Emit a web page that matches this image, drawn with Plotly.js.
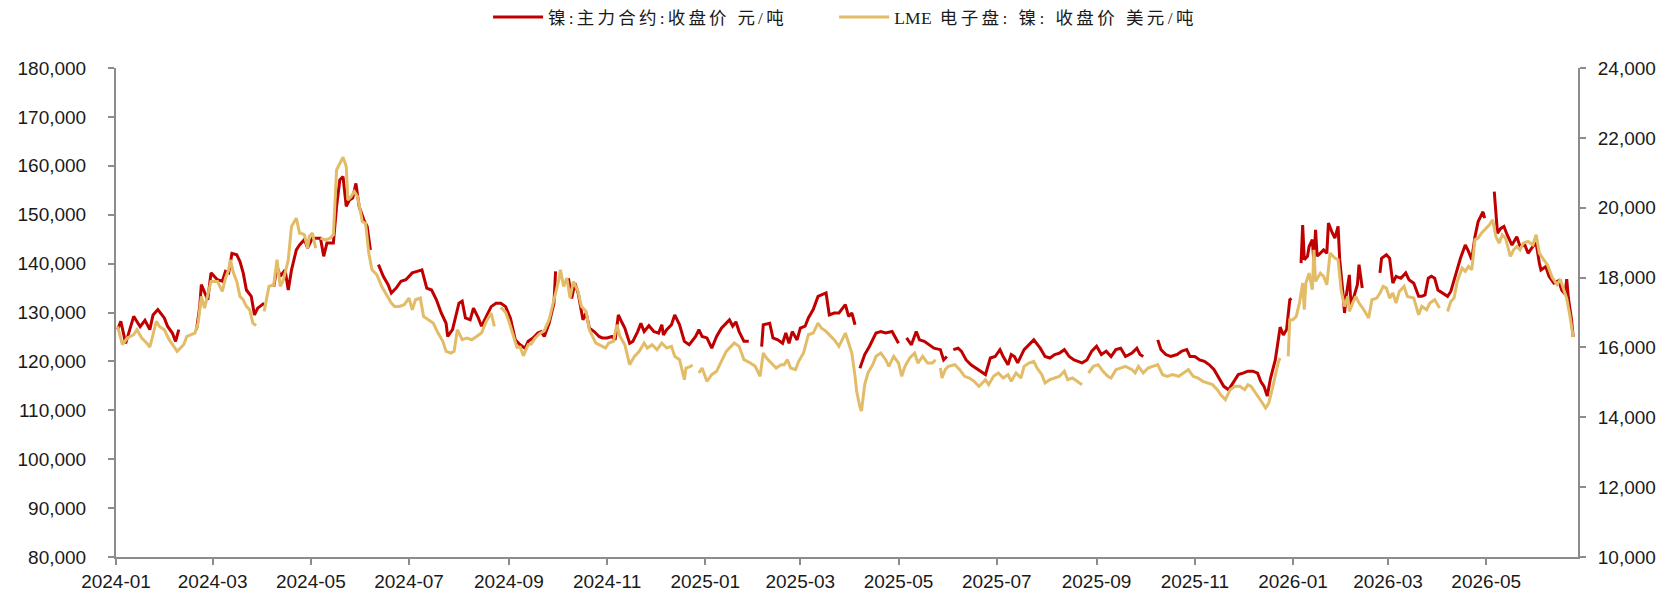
<!DOCTYPE html>
<html>
<head>
<meta charset="utf-8">
<script src="https://cdn.plot.ly/plotly-3.0.1.min.js"></script>
<style>
  html, body { margin: 0; padding: 0; background: #fff; }
  #chart { width: 1663px; height: 593px; }
  .legendtext { letter-spacing: 3.2px; }
</style>
</head>
<body>
<div id="chart"></div>
<script>
// 镍:主力合约:收盘价 (元/吨) — left axis
const shfeDates = [
"2024-01-02","2024-01-04","2024-01-07","2024-01-12","2024-01-16","2024-01-19","2024-01-22","2024-01-24","2024-01-27","2024-01-31",
"2024-02-02","2024-02-05","2024-02-07","2024-02-09","2024-02-14","2024-02-20","2024-02-22","2024-02-23","2024-02-25","2024-02-27","2024-02-29",
"2024-03-04","2024-03-07","2024-03-09","2024-03-11","2024-03-13","2024-03-16","2024-03-18","2024-03-20","2024-03-22","2024-03-25","2024-03-27","2024-03-29",
"2024-04-02","2024-04-05","2024-04-08","2024-04-10","2024-04-12","2024-04-15","2024-04-17","2024-04-19","2024-04-22","2024-04-24","2024-04-27","2024-04-29",
"2024-05-02","2024-05-07","2024-05-09","2024-05-11","2024-05-15","2024-05-17","2024-05-19","2024-05-21","2024-05-23","2024-05-25","2024-05-27","2024-05-29","2024-05-31",
"2024-06-03","2024-06-05","2024-06-07","2024-06-09","2024-06-12","2024-06-15","2024-06-18","2024-06-20","2024-06-23","2024-06-26","2024-06-29",
"2024-07-03","2024-07-06","2024-07-09","2024-07-12","2024-07-15","2024-07-18","2024-07-21","2024-07-24","2024-07-25","2024-07-28",
"2024-08-01","2024-08-03","2024-08-05","2024-08-08","2024-08-10","2024-08-13","2024-08-15","2024-08-18","2024-08-21","2024-08-24","2024-08-27","2024-08-30",
"2024-09-02","2024-09-05","2024-09-08","2024-09-11","2024-09-13","2024-09-16","2024-09-19","2024-09-21","2024-09-23","2024-09-26","2024-09-29","2024-09-30",
"2024-10-04","2024-10-08","2024-10-10","2024-10-12","2024-10-14","2024-10-17","2024-10-19","2024-10-21","2024-10-24","2024-10-27","2024-10-29",
"2024-11-01","2024-11-04","2024-11-06","2024-11-08","2024-11-10","2024-11-12","2024-11-15","2024-11-17","2024-11-20","2024-11-22","2024-11-24","2024-11-27","2024-11-30",
"2024-12-03","2024-12-05","2024-12-06","2024-12-08","2024-12-11","2024-12-13","2024-12-16","2024-12-19","2024-12-22","2024-12-26","2024-12-28","2024-12-30",
"2025-01-02","2025-01-05","2025-01-08","2025-01-11","2025-01-14","2025-01-16","2025-01-18","2025-01-20","2025-01-22","2025-01-25","2025-01-28","2025-01-31",
"2025-02-05","2025-02-06","2025-02-10","2025-02-12","2025-02-15","2025-02-18","2025-02-20","2025-02-22","2025-02-24","2025-02-27",
"2025-03-01","2025-03-04","2025-03-06","2025-03-09","2025-03-12","2025-03-14","2025-03-17","2025-03-19","2025-03-22","2025-03-25","2025-03-29","2025-03-31",
"2025-04-02","2025-04-04","2025-04-05","2025-04-07","2025-04-10","2025-04-13","2025-04-17","2025-04-20","2025-04-23","2025-04-27",
"2025-05-01","2025-05-03","2025-05-06","2025-05-09","2025-05-12","2025-05-14","2025-05-17","2025-05-20","2025-05-23","2025-05-27","2025-05-29","2025-05-31",
"2025-06-02","2025-06-04","2025-06-07","2025-06-09","2025-06-12","2025-06-15","2025-06-18","2025-06-21","2025-06-24","2025-06-27","2025-06-30",
"2025-07-03","2025-07-05","2025-07-08","2025-07-10","2025-07-12","2025-07-14","2025-07-18","2025-07-21","2025-07-24","2025-07-28","2025-07-31",
"2025-08-03","2025-08-06","2025-08-09","2025-08-12","2025-08-15","2025-08-18","2025-08-23","2025-08-26","2025-08-29",
"2025-09-01","2025-09-04","2025-09-07","2025-09-10","2025-09-13","2025-09-16","2025-09-19","2025-09-23","2025-09-26","2025-09-28","2025-09-30",
"2025-10-04","2025-10-09","2025-10-11","2025-10-14","2025-10-17","2025-10-21","2025-10-24","2025-10-27","2025-10-29",
"2025-11-01","2025-11-04","2025-11-07","2025-11-10","2025-11-13","2025-11-16","2025-11-19","2025-11-22","2025-11-25","2025-11-28",
"2025-12-01","2025-12-04","2025-12-07","2025-12-10","2025-12-12","2025-12-14","2025-12-16","2025-12-18","2025-12-21","2025-12-24","2025-12-26","2025-12-28","2025-12-30","2025-12-31",
"2026-01-02","2026-01-06","2026-01-07","2026-01-08","2026-01-10","2026-01-11","2026-01-13","2026-01-14","2026-01-15","2026-01-16","2026-01-20","2026-01-22","2026-01-23","2026-01-25","2026-01-27","2026-01-29","2026-01-30",
"2026-02-01","2026-02-02","2026-02-03","2026-02-05","2026-02-06","2026-02-08","2026-02-10","2026-02-11","2026-02-13","2026-02-17","2026-02-24","2026-02-25","2026-02-28",
"2026-03-02","2026-03-04","2026-03-06","2026-03-09","2026-03-12","2026-03-14","2026-03-17","2026-03-20","2026-03-22","2026-03-24","2026-03-26","2026-03-28","2026-03-30",
"2026-04-01","2026-04-04","2026-04-07","2026-04-09","2026-04-11","2026-04-13","2026-04-15","2026-04-18","2026-04-20","2026-04-22","2026-04-24","2026-04-26","2026-04-29","2026-04-30",
"2026-05-03","2026-05-06","2026-05-08","2026-05-10","2026-05-12","2026-05-14","2026-05-17","2026-05-20","2026-05-22","2026-05-25","2026-05-27","2026-05-30",
"2026-06-01","2026-06-03","2026-06-04","2026-06-07","2026-06-09","2026-06-12","2026-06-15","2026-06-17","2026-06-19","2026-06-20","2026-06-21","2026-06-23","2026-06-24"
];
const shfeClose = [
126500,128200,123700,129200,127100,128400,126500,129500,130600,128900,
127200,125800,124100,126500,null,126500,131200,135700,134000,132600,138100,
136700,136400,138400,138100,142100,141800,140400,138100,134600,133300,129500,130900,
131900,null,135300,139400,137400,138700,134600,138700,142800,143800,144900,143200,
145200,145200,141500,144200,144200,151700,157100,157800,151700,153000,153400,156400,151700,
148900,147600,142800,null,139800,137400,135700,134000,135000,136400,136700,
138100,138400,138700,135000,134600,132600,129900,127800,125100,126500,
131900,132300,128900,128500,130900,128900,127200,129200,131200,131900,131900,131200,
128800,124400,123400,122700,124100,124800,125800,126100,125100,127800,131900,138400,
null,137000,132900,136000,134000,128500,129900,126800,126100,125100,124800,
124800,125100,124400,129500,128100,126800,123700,124100,126100,127800,126100,127300,126100,
125800,127500,125400,126500,127500,129500,127500,124100,123400,125100,126500,125100,
124800,122700,125100,126800,127800,128500,127200,128100,126100,124100,124100,null,
123000,127500,127800,124800,124400,123700,125800,123700,126100,124400,
126800,127200,128900,130600,133300,133600,134000,129500,129900,129900,131600,129200,
129900,127500,null,118600,121400,123100,125800,126100,125800,126100,
123700,null,124800,123400,126100,124400,124100,123400,122700,122400,120300,121000,
null,122400,122700,122100,120300,119300,118600,117900,117300,120700,121000,
122400,121000,119300,121400,121000,119700,122400,123400,124400,122700,121000,
120700,121400,121700,122400,121000,120300,119700,120300,122100,
123100,121400,122100,121000,122400,122700,121000,121700,122700,121400,121000,
null,124400,122400,121400,121000,121400,122100,122400,121000,
121000,120300,120000,119300,118300,116600,114900,114200,115900,117300,
117600,118000,118000,117600,115900,114900,112900,116500,120300,127000,125400,126500,132600,132900,
null,140100,147900,140800,141500,143500,144900,140100,146900,141500,142800,142100,148300,146600,145200,147600,140800,
134000,129900,133300,137700,131200,133300,135700,139800,135000,null,138100,141100,141800,
141100,136000,137400,137000,138100,136700,136000,133300,133300,133600,137000,137400,137000,
134600,133900,133300,134300,136700,139100,141100,143800,142500,140800,145500,148600,150600,149300,
null,154700,146200,147200,147600,145900,143800,145500,143500,143800,142100,143500,
144200,140100,138700,139400,137400,136000,136500,134500,133800,136800,133000,128500,125000
];

// LME 电子盘: 镍: 收盘价 (美元/吨) — right axis
const lmeDates = [
"2024-01-02","2024-01-03","2024-01-05","2024-01-08","2024-01-12","2024-01-14","2024-01-17","2024-01-20","2024-01-22","2024-01-24","2024-01-26","2024-01-28","2024-01-31",
"2024-02-03","2024-02-06","2024-02-08","2024-02-10","2024-02-12","2024-02-14","2024-02-16","2024-02-19","2024-02-21","2024-02-23","2024-02-25","2024-02-27","2024-02-29",
"2024-03-04","2024-03-07","2024-03-09","2024-03-11","2024-03-12","2024-03-14","2024-03-16","2024-03-18","2024-03-20","2024-03-22","2024-03-24","2024-03-26","2024-03-28","2024-03-30",
"2024-04-02","2024-04-05","2024-04-08","2024-04-10","2024-04-12","2024-04-14","2024-04-17","2024-04-19","2024-04-22","2024-04-24","2024-04-25","2024-04-27","2024-04-29","2024-04-30",
"2024-05-02","2024-05-04","2024-05-06","2024-05-07","2024-05-10","2024-05-13","2024-05-15","2024-05-17","2024-05-19","2024-05-21","2024-05-23","2024-05-24","2024-05-26","2024-05-28","2024-05-30",
"2024-06-02","2024-06-04","2024-06-06","2024-06-08","2024-06-11","2024-06-14","2024-06-17","2024-06-20","2024-06-22","2024-06-25","2024-06-28",
"2024-07-01","2024-07-03","2024-07-05","2024-07-08","2024-07-10","2024-07-13","2024-07-16","2024-07-19","2024-07-22","2024-07-24","2024-07-27","2024-07-29","2024-07-31",
"2024-08-03","2024-08-06","2024-08-09","2024-08-12","2024-08-15","2024-08-18","2024-08-21","2024-08-23","2024-08-25","2024-08-27","2024-08-30",
"2024-09-01","2024-09-04","2024-09-06","2024-09-08","2024-09-10","2024-09-13","2024-09-15","2024-09-17","2024-09-20","2024-09-23","2024-09-26","2024-09-29",
"2024-10-02","2024-10-03","2024-10-05","2024-10-07","2024-10-09","2024-10-11","2024-10-14","2024-10-16","2024-10-19","2024-10-21","2024-10-23","2024-10-25","2024-10-27","2024-10-31",
"2024-11-02","2024-11-05","2024-11-07","2024-11-09","2024-11-12","2024-11-15","2024-11-18","2024-11-21","2024-11-24","2024-11-26","2024-11-29",
"2024-12-02","2024-12-05","2024-12-08","2024-12-11","2024-12-13","2024-12-16","2024-12-18","2024-12-19","2024-12-20","2024-12-23","2024-12-24","2024-12-26","2024-12-28","2024-12-30",
"2025-01-02","2025-01-05","2025-01-08","2025-01-11","2025-01-14","2025-01-17","2025-01-19","2025-01-22","2025-01-25","2025-01-29",
"2025-02-01","2025-02-04","2025-02-06","2025-02-08","2025-02-11","2025-02-14","2025-02-17","2025-02-19","2025-02-21","2025-02-23","2025-02-26","2025-02-28",
"2025-03-03","2025-03-06","2025-03-09","2025-03-12","2025-03-14","2025-03-17","2025-03-20","2025-03-22","2025-03-25","2025-03-29","2025-03-31",
"2025-04-02","2025-04-04","2025-04-05","2025-04-07","2025-04-08","2025-04-10","2025-04-12","2025-04-15","2025-04-17","2025-04-20","2025-04-23","2025-04-25","2025-04-28",
"2025-05-01","2025-05-03","2025-05-05","2025-05-08","2025-05-11","2025-05-13","2025-05-16","2025-05-19","2025-05-22","2025-05-24","2025-05-25","2025-05-27","2025-05-28","2025-05-30",
"2025-06-01","2025-06-05","2025-06-08","2025-06-11","2025-06-14","2025-06-17","2025-06-20","2025-06-24","2025-06-26","2025-06-29",
"2025-07-02","2025-07-05","2025-07-08","2025-07-10","2025-07-13","2025-07-16","2025-07-18","2025-07-21","2025-07-24","2025-07-26","2025-07-29","2025-07-31",
"2025-08-03","2025-08-06","2025-08-09","2025-08-12","2025-08-14","2025-08-17","2025-08-20","2025-08-23","2025-08-25","2025-08-27","2025-08-30",
"2025-09-02","2025-09-05","2025-09-08","2025-09-10","2025-09-13","2025-09-16","2025-09-19","2025-09-23","2025-09-25","2025-09-27","2025-09-30",
"2025-10-03","2025-10-06","2025-10-09","2025-10-12","2025-10-15","2025-10-18","2025-10-22","2025-10-25","2025-10-28","2025-10-31",
"2025-11-03","2025-11-06","2025-11-09","2025-11-12","2025-11-15","2025-11-17","2025-11-20","2025-11-23","2025-11-26","2025-11-29",
"2025-12-02","2025-12-04","2025-12-06","2025-12-09","2025-12-11","2025-12-13","2025-12-15","2025-12-17","2025-12-19","2025-12-21","2025-12-23","2025-12-24","2025-12-26","2025-12-29","2025-12-30",
"2026-01-01","2026-01-03","2026-01-05","2026-01-07","2026-01-08","2026-01-09","2026-01-11","2026-01-13","2026-01-14","2026-01-15","2026-01-18","2026-01-20","2026-01-22","2026-01-24","2026-01-27","2026-01-29","2026-01-31",
"2026-02-02","2026-02-04","2026-02-05","2026-02-07","2026-02-09","2026-02-11","2026-02-14","2026-02-17","2026-02-19","2026-02-22","2026-02-24","2026-02-26","2026-02-28",
"2026-03-02","2026-03-04","2026-03-06","2026-03-08","2026-03-11","2026-03-13","2026-03-17","2026-03-20","2026-03-22","2026-03-25","2026-03-27","2026-03-30",
"2026-04-02","2026-04-04","2026-04-07","2026-04-09","2026-04-11","2026-04-13","2026-04-16","2026-04-18","2026-04-20","2026-04-22","2026-04-24","2026-04-26","2026-04-28","2026-04-30",
"2026-05-03","2026-05-05","2026-05-07","2026-05-09","2026-05-11","2026-05-13","2026-05-16","2026-05-18","2026-05-20","2026-05-22","2026-05-24","2026-05-27","2026-05-30",
"2026-06-01","2026-06-03","2026-06-05","2026-06-08","2026-06-11","2026-06-14","2026-06-16","2026-06-18","2026-06-20","2026-06-22","2026-06-24"
];
const lmeClose = [
16603,16412,16078,16269,16364,16507,16269,16126,16012,16364,16746,16603,16507,
16221,16031,15888,15983,16078,16317,16364,16412,16698,17461,17127,17556,17889,
17889,17604,17985,18223,18509,18128,17889,17461,17365,17175,17079,16698,16622,null,
17032,17747,17794,18509,17747,17937,18509,19462,19701,19272,19272,19224,18843,19176,
19272,18843,null,19129,19081,19129,19224,21083,21274,21445,21178,20225,20320,20463,20320,
19606,19558,18700,18223,18080,17747,17508,17270,17175,17175,17222,
17413,17079,17365,17413,16889,16793,16698,16412,16174,15888,15840,15888,16507,
16221,16269,16221,16317,16412,16746,16984,16603,null,17150,17000,
16750,16320,16000,16010,15760,16080,16100,16250,16390,16480,16793,17365,
17937,18223,17747,17985,17413,17890,17604,17175,17032,16507,16317,16126,16079,15983,
16126,16174,16650,16317,16079,15506,15745,15888,16126,15983,16079,
15935,16126,15983,16031,15745,15649,15268,15077,15411,15459,15506,null,15268,15411,
15029,15220,15316,15602,15888,16031,16126,16031,15649,15554,
15459,15173,15840,15697,15554,15411,15506,15506,15649,15411,15363,15602,
15840,16364,16412,16698,16555,16460,16317,16221,16031,16412,16126,
15840,15173,14744,14300,14180,14934,15268,15506,15745,15840,15649,15459,15745,
15554,15173,15459,15697,15840,15554,15745,15554,15554,15649,null,15411,15125,15363,
15459,15506,15363,15173,15125,15029,14886,15077,14934,15173,
15268,15125,15220,15029,15268,15125,15459,15554,15602,15411,15220,14982,
15077,15125,15173,15316,15077,15125,15029,14934,null,15268,15459,
15506,15316,15173,15125,15363,15411,15459,15363,15268,15459,15268,
15411,15459,15506,15220,15173,15220,15173,15268,15363,15173,
15125,15029,14982,14934,14791,14648,14505,14791,14886,14886,
14791,14934,14886,14696,14553,14410,14267,14410,14791,15173,15600,15697,null,15744,16793,
16793,16888,17270,17842,17079,17842,18128,17651,18795,17890,18128,18033,17794,18700,18557,18509,17603,
17174,17461,17031,17270,17461,17270,17079,16841,17365,17413,17556,17747,17699,
17413,17556,17270,17604,17747,17461,17413,16936,17174,17079,17270,17365,
17127,null,17031,17317,17413,17890,18271,18176,18318,18223,19081,19129,19272,19367,
19510,19653,19176,18986,19224,19129,18605,18795,18890,18795,18986,19033,18938,
19224,18700,18557,18366,18000,17800,17950,17700,17400,16900,16300
];

const seriesNames = [
  "镍:主力合约:收盘价 元/吨",
  "<span style=\"letter-spacing:0.3px\">LME</span><span style=\"letter-spacing:3.4px\"> 电子盘: 镍: 收盘价 美元/吨</span>"
];
const xTickVals = ["2024-01-01","2024-03-01","2024-05-01","2024-07-01","2024-09-01","2024-11-01",
  "2025-01-01","2025-03-01","2025-05-01","2025-07-01","2025-09-01","2025-11-01",
  "2026-01-01","2026-03-01","2026-05-01"];
const xTickText = ["2024-01","2024-03","2024-05","2024-07","2024-09","2024-11",
  "2025-01","2025-03","2025-05","2025-07","2025-09","2025-11",
  "2026-01","2026-03","2026-05"];
const leftTicks = [80000,90000,100000,110000,120000,130000,140000,150000,160000,170000,180000];
const rightTicks = [10000,12000,14000,16000,18000,20000,22000,24000];

const axisGrey = "#8c8c8c";
const tickFont = { family: "Liberation Sans, Arial, sans-serif", size: 19, color: "#1a1a1a" };
const legendFont = { family: "Liberation Serif, Noto Sans CJK SC, serif", size: 17.5, color: "#1a1a1a" };

const traces = [
  { x: shfeDates, y: shfeClose, name: seriesNames[0], type: "scatter", mode: "lines",
    line: { color: "#C00000", width: 3 }, connectgaps: false, yaxis: "y", legend: "legend" },
  { x: lmeDates, y: lmeClose, name: seriesNames[1], type: "scatter", mode: "lines",
    line: { color: "#E2BC67", width: 3 }, connectgaps: false, yaxis: "y2", legend: "legend2" }
];

function legendAt(xPaper) {
  return {
    orientation: "h", xref: "paper", x: xPaper, xanchor: "left",
    yref: "container", y: 0.971, yanchor: "middle",
    font: legendFont, itemwidth: 50,
    bgcolor: "rgba(0,0,0,0)", borderwidth: 0
  };
}

const layout = {
  width: 1663, height: 593,
  margin: { l: 116, r: 85, t: 68, b: 36, pad: 0 },
  paper_bgcolor: "#ffffff", plot_bgcolor: "#ffffff",
  showlegend: true,
  legend: legendAt(0.2545),
  legend2: legendAt(0.4912),
  xaxis: {
    type: "date", range: ["2024-01-01", "2026-06-27"],
    tickmode: "array", tickvals: xTickVals, ticktext: xTickText,
    ticks: "outside", ticklen: 6, tickwidth: 2, tickcolor: axisGrey,
    showline: true, linecolor: axisGrey, linewidth: 2,
    showgrid: false, zeroline: false, tickfont: tickFont, ticklabelstandoff: 0
  },
  yaxis: {
    range: [80000, 180000], tickmode: "array", tickvals: leftTicks,
    tickformat: ",d",
    ticks: "outside", ticklen: 6, tickwidth: 2, tickcolor: axisGrey,
    showline: true, linecolor: axisGrey, linewidth: 2,
    showgrid: false, zeroline: false, tickfont: tickFont, ticklabelstandoff: 18
  },
  yaxis2: {
    overlaying: "y", side: "right", range: [10000, 24000], tickmode: "array", tickvals: rightTicks,
    tickformat: ",d",
    ticks: "outside", ticklen: 6, tickwidth: 2, tickcolor: axisGrey,
    showline: true, linecolor: axisGrey, linewidth: 2,
    showgrid: false, zeroline: false, tickfont: tickFont, ticklabelstandoff: 8
  }
};

Plotly.newPlot("chart", traces, layout, { staticPlot: true, displayModeBar: false });
</script>
</body>
</html>
